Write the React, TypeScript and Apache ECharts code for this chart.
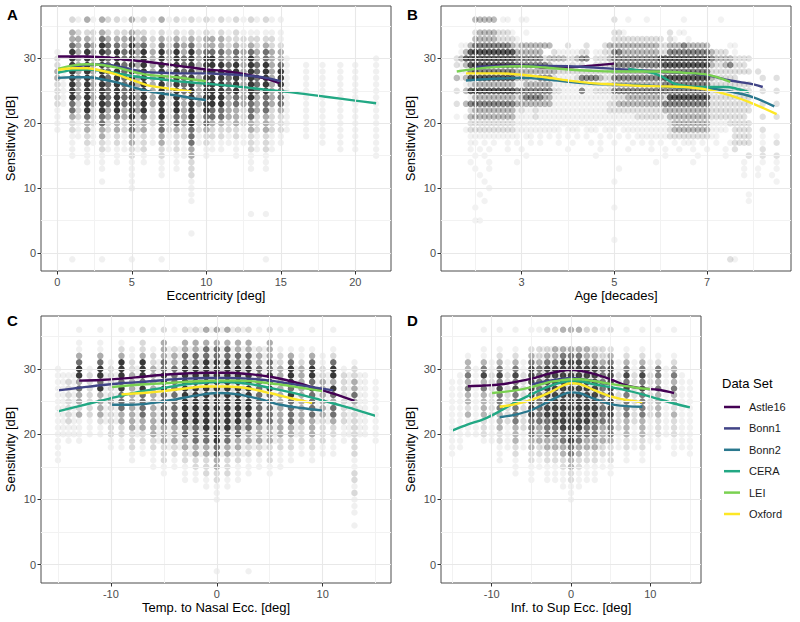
import { useEffect, useRef } from "react";
import * as echarts from "echarts";

const FONT = "'Liberation Sans', Arial, Helvetica, sans-serif";
const DATASETS = ["Astle16", "Bonn1", "Bonn2", "CERA", "LEI", "Oxford"];
const COLORS = ["#440154", "#414487", "#2A788E", "#22A884", "#7AD151", "#FDE725"];
const LEVEL_ALPHA = [0, 0.06, 0.15, 0.32, 0.56, 0.78];
const Y_TOP = 36;

// Point density columns: x, then levels for y = 36 .. -1
const eccCols: [number, string][] = [
  [0, "000001 2233222211 1100000000 0000000000 00"],
  [0.4, "000000 0011111100 0000000000 0000000000 00"],
  [1, "203345 5555555443 2211110000 0000000000 01"],
  [1.4, "102333 3333333222 1110000000 0000000000 00"],
  [2, "302345 5555555554 3322111000 0000000000 00"],
  [2.4, "102233 3333333322 2111000000 0000000000 00"],
  [3, "303455 5555555554 4332211101 0000000000 01"],
  [3.4, "202344 4444444433 2211100000 0000000000 00"],
  [4, "202345 5555555554 3322111000 0000000000 00"],
  [4.5, "102334 4444444433 2211100000 0000000000 00"],
  [5, "303455 5555555555 4433221111 1000000000 01"],
  [5.4, "102233 3333333332 2211100000 0000000000 00"],
  [5.8, "202345 5555555554 3322211000 0000000000 00"],
  [6.4, "101223 3333333322 2111000000 0000000000 00"],
  [7, "302345 5555555555 4433221110 0000000000 01"],
  [7.5, "101223 3333332222 2211100000 0000000000 00"],
  [8, "202345 5555555554 4322211100 0000000000 00"],
  [8.5, "101233 4444443333 3221110000 0000000000 00"],
  [9, "202345 5555555555 5444332221 1110000100 00"],
  [9.5, "101223 3333333322 2211000000 0000000000 00"],
  [10, "202334 5555555554 4322110000 0000000000 00"],
  [10.4, "101334 5555555544 3221100000 0000000000 00"],
  [11, "202334 4555555544 3221100000 0000000000 00"],
  [11.5, "101223 3444443333 2211000000 0000000000 00"],
  [12, "202234 4555554433 3221110000 0000000000 00"],
  [12.5, "101223 3333333322 2111000000 0000000000 00"],
  [13, "201234 5555555444 3322211100 0000100000 00"],
  [13.4, "101223 3444443332 2211100000 0000000000 00"],
  [14, "201234 4555554443 3322211100 0000100000 01"],
  [14.4, "101223 3333333322 2211100000 0000000000 00"],
  [15, "101123 3455544432 2211000000 0000000000 00"],
  [15.4, "000000 1111111111 1100000000 0000000000 00"],
  [16.7, "000000 0111111111 1110000000 0000000000 00"],
  [17.8, "000000 0111111111 1111000000 0000000000 00"],
  [19, "000000 0111111111 1111100000 0000000000 00"],
  [20, "000000 0111111111 1111100000 0000000000 00"],
  [21.4, "000000 1111111111 1111110000 0000000000 00"],
];

// Age columns (decades) and rows of density per sensitivity value
const ageX = [
  1.6, 1.7, 1.8, 1.9, 2.0, 2.1, 2.2, 2.3, 2.4, 2.5,
  2.6, 2.7, 2.8, 2.9, 3.0, 3.1, 3.2, 3.3, 3.4, 3.5,
  3.6, 3.7, 3.8, 3.9, 4.0, 4.1, 4.2, 4.3, 4.4, 4.5,
  4.6, 4.7, 4.8, 4.9, 5.0, 5.1, 5.2, 5.3, 5.4, 5.5,
  5.6, 5.7, 5.8, 5.9, 6.0, 6.1, 6.2, 6.3, 6.4, 6.5,
  6.6, 6.7, 6.8, 6.9, 7.0, 7.1, 7.2, 7.3, 7.4, 7.5,
  7.6, 7.7, 7.8, 7.9, 8.0, 8.1, 8.2, 8.3, 8.4, 8.5,
];
const ageRows: [number, string][] = [
  [36, "0000333330 1100110000 0000000000 0000200100 0100000001 0000000100 0000000000"],
  [34, "0000233332 2210010000 0000000000 0000221000 0000002011 0000000000 0000000000"],
  [33, "0000333332 2221000000 0000000000 0000222222 2222202100 1000000000 0000000000"],
  [32, "0113444444 4432333333 3000200020 0023333333 3333223334 3333300001 1000000000"],
  [31, "0135555555 5553333330 0211111220 1122443333 3333224444 4444432220 1000000000"],
  [30, "2355555555 5554444442 3333223440 2223444444 4444555555 5555543333 2222000000"],
  [29, "2135555555 5554444444 3111121200 2222444444 4444455555 5555532234 2220000000"],
  [28, "0114444444 4443333333 3322222222 2222333333 3333344444 4444422222 2222020000"],
  [27, "3135555555 5553332244 4211112444 4322444444 4444455555 5555532222 2000002002"],
  [26, "0012333333 3331133333 3111111111 1112333333 3333344444 4444422222 2222000000"],
  [25, "2035555555 5554444444 4221111411 2222444444 4444444444 4444422222 2222002002"],
  [24, "0001333333 3332344443 3111111111 1111222333 3333325555 5555522222 2222000000"],
  [23, "2034444444 4443333333 3111111111 1112233333 3333344444 4444422222 2222002002"],
  [22, "0002333333 3331211211 1111111111 1112222222 2222233333 3333322222 2222000000"],
  [21, "1013333333 3331111211 1111111111 1111111112 2222213333 3333322222 2220002002"],
  [20, "0002222222 2221111111 1111111111 1111111111 1111112333 3333311112 2222000000"],
  [19, "0012222222 2221111111 1110111011 1011101111 1111112333 3333311110 2222002000"],
  [18, "0001111111 1111011010 1010101010 0101010101 1111112222 2222211000 2222001001"],
  [17, "0001101010 0101001010 0010010001 0100100010 1010100101 1101001001 2222001002"],
  [16, "0001010100 0100100000 0000100000 0100000100 0010010010 0100100010 2000002000"],
  [15, "0000101000 0000010000 0000000000 1000000000 0000010000 0010000010 0002002002"],
  [14, "0001000100 0001000000 0000000000 0000000000 0001000000 0100000000 0010001001"],
  [13, "0000100100 0000000000 0000000000 0000010000 0000000000 0000000000 0010010001"],
  [12, "0000010000 0000000000 0000000000 0000000000 0000000000 0000000000 0010010010"],
  [11, "0000001000 0000000000 0000000000 0000100000 0000000000 0000000000 0000000001"],
  [10, "0000000100 0000000000 0000000000 0000000000 0000000000 0000000000 0000000000"],
  [9, "0000010000 0000000000 0000000000 0000000000 0000000000 0000000000 0001000000"],
  [8, "0000001000 0000000000 0000000000 0000000000 0000000000 0000000000 0001000000"],
  [7, "0000100000 0000000000 0000000000 0000100000 0000000000 0000000000 0000000000"],
  [5, "0000110000 0000000000 0000000000 0000000000 0000000000 0000000000 0000000000"],
  [2, "0000000000 0000000000 0000000000 0000100000 0000000000 0000000000 0000000000"],
  [-1, "0000000000 0000000000 0000000000 0000000000 0000000000 0000000002 1000000000"],
];

const tnCols: [number, string][] = [
  [-15, "000000 1111111111 1111100000 0000000000 00"],
  [-14.5, "000000 0111111111 1000000000 0000000000 00"],
  [-14, "000000 0122222221 1100000000 0000000000 00"],
  [-13.5, "000000 0111111111 1000000000 0000000000 00"],
  [-13, "101134 5534332311 1100000000 0000000000 00"],
  [-12, "000000 1222222211 1000000000 0000000000 00"],
  [-11, "101134 5545333321 1000000000 0000000000 00"],
  [-10.5, "000000 0111111110 0000000000 0000000000 00"],
  [-10, "000001 2222232222 2110000000 0000000000 00"],
  [-9.5, "000000 0111111110 0000000000 0000000000 00"],
  [-9, "101235 5545444332 2110000000 0000000000 00"],
  [-8, "100112 2333333333 2221100000 0000000000 00"],
  [-7.5, "000000 1111111111 1000000000 0000000000 00"],
  [-7, "202235 5545444433 2211000000 0000000000 00"],
  [-6, "100122 3333333333 3221110000 0000000000 00"],
  [-5.5, "000001 1111111111 1100000000 0000000000 00"],
  [-5, "203334 4555444443 3322211000 0000000000 00"],
  [-4.5, "000111 1111111111 1110000000 0000000000 00"],
  [-4, "100233 4444444443 3322110000 0000000000 00"],
  [-3.5, "000111 1111111111 1110000000 0000000000 00"],
  [-3, "203344 5555555554 4332211100 0000000000 00"],
  [-2.5, "100112 2222222222 1111000000 0000000000 00"],
  [-2, "203344 5555555554 4433221100 0000000000 00"],
  [-1.5, "100112 2222222222 1111000000 0000000000 00"],
  [-1, "303445 5555555555 4433222110 0000000000 00"],
  [-0.5, "100112 2222222222 1111000000 0000000000 00"],
  [0, "303445 5555555555 5544332211 1000000000 01"],
  [0.5, "100112 2222222222 1111000000 0000000000 00"],
  [1, "303445 5555555555 4433222110 0000000000 00"],
  [1.5, "100112 2222222222 1111000000 0000000000 00"],
  [2, "203344 5555555554 4332211100 0000000000 00"],
  [2.5, "100112 2222222222 1111000000 0000000000 00"],
  [3, "203344 5555555544 3322111000 0000000000 01"],
  [3.5, "000111 1111111111 1110000000 0000000000 00"],
  [4, "100233 4444444443 3322110000 0000000000 00"],
  [4.5, "000111 1111111111 1110000000 0000000000 00"],
  [5, "203334 4555444443 3322211000 0000000000 00"],
  [5.5, "000001 1111111111 1100000000 0000000000 00"],
  [6, "100122 3333333333 3221110000 0000000000 00"],
  [7, "100134 5554544443 3221100000 0000000000 00"],
  [7.5, "000000 1111111111 1000000000 0000000000 00"],
  [8, "000112 3333333332 2211000000 0000000000 00"],
  [9, "100134 5545444433 3221100000 0000000000 00"],
  [9.5, "000000 0111111110 0000000000 0000000000 00"],
  [10, "000011 2233333322 2211000000 0000000000 00"],
  [10.5, "000000 0111111110 0000000000 0000000000 00"],
  [11, "100124 5535434432 2111000000 0000000000 00"],
  [12, "000000 1222222221 1100000000 0000000000 00"],
  [12.5, "000000 0111111111 1000000000 0000000000 00"],
  [13, "000001 2233432222 2222112212 1110100000 00"],
  [13.5, "000000 0111111111 1000000000 0000000000 00"],
  [14, "000000 0111111111 1000000000 0000000000 00"],
  [15, "000000 0011111111 1100000000 0000000000 00"],
];

const isCols: [number, string][] = [
  [-15, "000000 0011111111 1111000000 0000000000 00"],
  [-14, "000000 0111111111 1110000000 0000000000 00"],
  [-13, "000013 3434332311 1000000000 0000000000 00"],
  [-12, "000000 1111111111 1000000000 0000000000 00"],
  [-11, "100113 4534333322 2100000000 0000000000 00"],
  [-10, "000001 1222222211 1100000000 0000000000 00"],
  [-9, "100123 4545444333 2211100000 0000000000 00"],
  [-8, "000001 1222222221 1110000000 0000000000 00"],
  [-7, "100123 4545444443 3322111000 0000000000 00"],
  [-6, "000001 1222222222 1110000000 0000000000 00"],
  [-5, "100234 5555555544 4332211100 0000000000 00"],
  [-4.5, "000011 1111111111 1100000000 0000000000 00"],
  [-4, "100223 4444444443 3322110000 0000000000 00"],
  [-3.5, "000111 2222222221 1110000000 0000000000 00"],
  [-3, "200234 5555555544 4332211100 0000000000 00"],
  [-2.5, "000111 2222222221 1110000000 0000000000 00"],
  [-2, "200334 5555555554 4332211100 0000000000 00"],
  [-1.5, "000111 2222222221 1110000000 0000000000 00"],
  [-1, "300345 5555555555 4433221110 0000000000 00"],
  [-0.5, "000111 2222222221 1110000000 0000000000 00"],
  [0, "300345 5555555555 5544332211 1000000000 00"],
  [0.5, "000111 2222222221 1110000000 0000000000 00"],
  [1, "300345 5555555555 4433221110 0000000000 00"],
  [1.5, "000111 2222222221 1110000000 0000000000 00"],
  [2, "200334 5555555554 4332211100 0000000000 00"],
  [2.5, "000111 2222222221 1110000000 0000000000 00"],
  [3, "200234 5555555544 4332211100 0000000000 00"],
  [3.5, "000111 2222222221 1110000000 0000000000 00"],
  [4, "100223 4444444443 3322110000 0000000000 00"],
  [4.5, "000011 1111111111 1100000000 0000000000 00"],
  [5, "200234 5555555544 4322211000 0000000000 00"],
  [6, "000001 1222222222 1110000000 0000000000 00"],
  [7, "100123 4545444433 3221100000 0000000000 00"],
  [8, "000001 1222222221 1110000000 0000000000 00"],
  [9, "100123 4545444433 3221100000 0000000000 00"],
  [10, "000001 1222222211 1100000000 0000000000 00"],
  [11, "100012 4434333322 2110000000 0000000000 00"],
  [12, "000000 1111111111 1000000000 0000000000 00"],
  [13, "100012 3434332322 2111000000 0000000000 00"],
  [14, "000000 0111111111 1110000000 0000000000 00"],
  [15, "000000 0011111111 1111000000 0000000000 00"],
];

// Smooth fits per data set (order of DATASETS)
const eccFits: number[][][] = [
  [[0, 30.3], [1, 30.3], [2, 30.3], [3, 30.2], [4, 30.0], [5, 29.7], [6, 29.5], [7, 29.2], [8, 28.9], [9, 28.6], [10, 28.3], [11, 28.1], [12, 27.8], [13, 27.4], [14, 26.9], [14.9, 26.2]],
  [[1, 28.7], [2, 29.0], [3, 29.1], [4, 28.8], [5, 28.3], [6, 27.9], [7, 27.8], [8, 27.7], [9, 27.7], [10, 27.7], [11, 27.6], [12, 27.5], [13, 27.3], [14, 27.0], [15, 26.5]],
  [[0, 27.0], [1, 27.1], [2, 27.1], [3, 26.8], [4, 26.3], [5, 25.6], [6, 25.0], [7, 24.6], [8, 24.3], [9, 23.9], [10, 23.6]],
  [[0, 27.8], [1, 28.2], [2, 28.3], [3, 28.1], [4, 27.7], [5, 27.3], [6, 27.0], [7, 26.8], [8, 26.5], [9, 26.3], [10, 26.1], [12, 25.7], [14, 25.2], [16, 24.7], [18, 24.1], [20, 23.5], [21.4, 23.1]],
  [[0, 28.4], [1, 28.9], [2, 29.1], [3, 29.0], [4, 28.6], [5, 28.0], [6, 27.5], [7, 27.3], [8, 27.1], [9, 26.8], [10, 26.5]],
  [[0, 28.2], [1, 28.5], [2, 28.5], [3, 28.1], [4, 27.5], [5, 26.7], [6, 25.9], [7, 25.5], [8, 25.2], [9, 24.9]],
];
const ageFits: number[][][] = [
  [[2.0, 28.6], [2.5, 28.9], [3.0, 28.9], [3.5, 28.6], [4.0, 28.6], [4.5, 28.9], [5.0, 29.2]],
  [[2.0, 28.7], [3.0, 28.9], [4.0, 28.8], [5.0, 28.4], [6.0, 28.0], [6.5, 27.8], [7.0, 27.4], [7.5, 26.6], [8.0, 26.0], [8.2, 25.6]],
  [[1.8, 26.6], [2.5, 26.9], [3.0, 27.0], [3.5, 26.8], [4.0, 26.4], [4.5, 26.1], [5.0, 26.0], [5.5, 25.9], [6.0, 25.7], [6.5, 25.5], [7.0, 25.4], [7.5, 24.9], [8.0, 24.0], [8.45, 22.6]],
  [[5.3, 28.4], [5.6, 28.1], [5.9, 27.6], [6.1, 26.9], [6.3, 26.1], [6.6, 25.7], [7.0, 25.6], [7.4, 25.6], [7.6, 25.4], [7.9, 24.8]],
  [[1.6, 28.0], [2.0, 28.4], [2.5, 28.7], [3.0, 28.8], [3.5, 28.6], [4.0, 28.3], [4.5, 28.1], [5.0, 28.0], [5.5, 28.0], [6.0, 28.0], [6.5, 27.8], [7.0, 27.5], [7.5, 26.4]],
  [[1.8, 27.7], [2.5, 27.7], [3.0, 27.5], [3.5, 27.1], [4.0, 26.6], [4.5, 26.2], [5.0, 26.0], [5.5, 25.8], [6.0, 25.7], [6.5, 25.6], [7.0, 25.2], [7.5, 24.3], [8.0, 23.0], [8.5, 21.4]],
];
const tnFits: number[][][] = [
  [[-13, 28.2], [-11, 28.3], [-9, 28.5], [-7, 28.8], [-5, 29.1], [-3, 29.3], [-1, 29.4], [0, 29.4], [1, 29.4], [3, 29.2], [5, 28.8], [7, 28.1], [9, 27.2], [11, 26.2], [13, 25.1]],
  [[-15, 26.7], [-13, 27.1], [-11, 27.5], [-9, 27.8], [-7, 28.0], [-5, 28.3], [-3, 28.5], [-1, 28.6], [1, 28.6], [3, 28.5], [5, 28.2], [7, 27.7], [9, 27.2], [11, 26.7]],
  [[-10, 24.5], [-8, 24.5], [-6, 24.8], [-4, 25.3], [-2, 25.9], [0, 26.3], [2, 26.1], [4, 25.4], [6, 24.5], [8, 24.0], [10, 23.6]],
  [[-15, 23.5], [-13, 24.3], [-11, 25.1], [-9, 25.9], [-7, 26.6], [-5, 27.1], [-3, 27.6], [-1, 27.9], [0, 28.0], [1, 28.0], [3, 27.7], [5, 27.1], [7, 26.4], [9, 25.6], [11, 24.7], [13, 23.8], [15, 22.8]],
  [[-10, 27.2], [-8, 27.5], [-6, 27.7], [-4, 27.9], [-2, 28.1], [0, 28.2], [2, 28.2], [4, 28.0], [6, 27.6], [8, 27.1], [10, 26.6]],
  [[-9, 26.1], [-7, 26.3], [-5, 26.6], [-3, 27.0], [-1, 27.3], [0, 27.3], [1, 27.3], [3, 27.0], [5, 26.3], [7, 25.5], [9, 24.8]],
];
const isFits: number[][][] = [
  [[-13, 27.35], [-11, 27.45], [-9, 27.6], [-7, 28.0], [-5, 28.5], [-3, 29.2], [-1, 29.75], [0, 29.85], [1, 29.75], [3, 29.2], [5, 28.4], [7, 27.45], [9, 27.0], [11, 26.8], [13, 26.3]],
  [[-5, 27.6], [-3, 28.1], [-1, 28.5], [0, 28.6], [1, 28.5], [3, 28.1], [5, 27.6]],
  [[-9, 22.6], [-7, 23.0], [-5, 23.7], [-3, 24.9], [-1, 26.1], [0, 26.4], [1, 26.3], [3, 25.4], [5, 24.6], [7, 24.3], [9, 24.2]],
  [[-15, 20.55], [-13, 21.5], [-11, 22.3], [-9, 23.5], [-7, 24.9], [-5, 26.1], [-3, 27.2], [-1, 28.0], [0, 28.1], [1, 28.1], [3, 27.6], [5, 27.2], [7, 26.7], [9, 26.1], [11, 25.4], [13, 24.7], [15, 24.1]],
  [[-10, 26.3], [-7, 26.7], [-5, 27.2], [-3, 27.9], [-1, 28.3], [0, 28.4], [1, 28.4], [3, 28.1], [5, 27.7], [7, 27.35], [9, 27.0], [10, 26.9]],
  [[-9, 24.2], [-7, 24.6], [-5, 25.25], [-3, 26.2], [-1, 27.45], [0, 27.8], [1, 27.7], [3, 26.7], [5, 25.8], [7, 25.25], [9, 24.9]],
];

// Axis breaks
const yMajor = [0, 10, 20, 30];
const yMinor = [5, 15, 25, 35];
const eccMajor = [0, 5, 10, 15, 20];
const eccMinor = [2.5, 7.5, 12.5, 17.5];
const ageMajor = [3, 5, 7];
const ageMinor = [2, 4, 6, 8];
const eccTnMajor = [-10, 0, 10];
const eccTnMinor = [-15, -5, 5, 15];

function levelsFromColumns(cols: [number, string][]) {
  const byLevel: number[][][] = [[], [], [], [], [], []];
  cols.forEach(([x, s]) => {
    const t = s.replace(/\s/g, "");
    for (let k = 0; k < t.length; k++) {
      const lv = Number(t[k]);
      if (lv > 0) byLevel[lv].push([x, Y_TOP - k]);
    }
  });
  return byLevel;
}
function levelsFromRows(xs: number[], rows: [number, string][]) {
  const byLevel: number[][][] = [[], [], [], [], [], []];
  rows.forEach(([y, s]) => {
    const t = s.replace(/\s/g, "");
    for (let i = 0; i < t.length && i < xs.length; i++) {
      const lv = Number(t[i]);
      if (lv > 0) byLevel[lv].push([xs[i], y]);
    }
  });
  return byLevel;
}

export default function App() {
  const ref = useRef<HTMLDivElement>(null);
  useEffect(() => {
    if (!ref.current) return;
    const chart = echarts.init(ref.current, undefined, { renderer: "svg" });

    const panels = [
      { grid: { left: 41, top: 6, width: 350, height: 265 }, min: -1.1, max: 22.4, major: eccMajor, minor: eccMinor, name: "Eccentricity [deg]", levels: levelsFromColumns(eccCols), fits: eccFits, fade: 1 },
      { grid: { left: 441, top: 6, width: 350, height: 265 }, min: 1.26, max: 8.81, major: ageMajor, minor: ageMinor, name: "Age [decades]", levels: levelsFromRows(ageX, ageRows), fits: ageFits, fade: 0.82 },
      { grid: { left: 41, top: 316, width: 350, height: 267 }, min: -16.6, max: 16.45, major: eccTnMajor, minor: eccTnMinor, name: "Temp. to Nasal Ecc. [deg]", levels: levelsFromColumns(tnCols), fits: tnFits, fade: 1 },
      { grid: { left: 441, top: 316, width: 260, height: 267 }, min: -16.4, max: 16.4, major: eccTnMajor, minor: eccTnMinor, name: "Inf. to Sup Ecc. [deg]", levels: levelsFromColumns(isCols), fits: isFits, fade: 0.92 },
    ];

    const grids: any[] = [];
    const xAxes: any[] = [];
    const yAxes: any[] = [];
    const series: any[] = [];
    const minorStyle = { color: "#f2f2f2", width: 1, type: "solid" };
    const majorStyle = { color: "#e8e8e8", width: 1.1, type: "solid" };

    panels.forEach((p, i) => {
      grids.push({ ...p.grid, show: true, borderColor: "#4d4d4d", borderWidth: 1, backgroundColor: "#fff", containLabel: false, outerBoundsMode: "none" });
      xAxes.push({
        gridIndex: i, type: "value", min: p.min, max: p.max,
        splitLine: { show: false },
        axisLine: { show: false, onZero: false },
        axisTick: { show: true, length: 3.5, lineStyle: { color: "#333" }, customValues: p.major },
        axisLabel: { customValues: p.major, color: "#4d4d4d", fontSize: 11, fontFamily: FONT, margin: 5 },
        name: p.name, nameLocation: "middle", nameGap: 18,
        nameTextStyle: { color: "#000", fontSize: 13, fontFamily: FONT },
      });
      yAxes.push({
        gridIndex: i, type: "value", min: -2.8, max: 38.1,
        splitLine: { show: false },
        axisLine: { show: false, onZero: false },
        axisTick: { show: true, length: 3.5, lineStyle: { color: "#333" }, customValues: yMajor },
        axisLabel: { customValues: yMajor, color: "#4d4d4d", fontSize: 11, fontFamily: FONT, margin: 5 },
        name: "Sensitivity [dB]", nameLocation: "middle", nameGap: 24,
        nameTextStyle: { color: "#000", fontSize: 13, fontFamily: FONT },
      });
      const gridLines: any[] = [];
      p.minor.forEach((v) => gridLines.push({ xAxis: v, lineStyle: minorStyle }));
      yMinor.forEach((v) => gridLines.push({ yAxis: v, lineStyle: minorStyle }));
      p.major.forEach((v) => gridLines.push({ xAxis: v, lineStyle: majorStyle }));
      yMajor.forEach((v) => gridLines.push({ yAxis: v, lineStyle: majorStyle }));
      series.push({
        type: "line", xAxisIndex: i, yAxisIndex: i, data: [], silent: true, z: 1,
        markLine: { silent: true, symbol: ["none", "none"], label: { show: false }, lineStyle: { type: "solid" }, emphasis: { disabled: true }, data: gridLines, animation: false },
      });
      for (let lv = 1; lv <= 5; lv++) {
        series.push({
          type: "scatter", xAxisIndex: i, yAxisIndex: i, data: p.levels[lv], symbolSize: 6.5, silent: true, z: 2,
          itemStyle: { color: "#000", opacity: LEVEL_ALPHA[lv] * p.fade },
        });
      }
      p.fits.forEach((pts, k) => {
        series.push({
          name: DATASETS[k], type: "line", xAxisIndex: i, yAxisIndex: i, data: pts, smooth: 0.35,
          symbol: "none", showSymbol: false, silent: true, z: 3,
          lineStyle: { width: 2.4, color: COLORS[k] }, itemStyle: { color: COLORS[k] },
        });
      });
    });

    const labels = [["A", 7, 7], ["B", 407, 7], ["C", 7, 313], ["D", 407, 313]];
    const option: any = {
      animation: false,
      backgroundColor: "#fff",
      grid: grids, xAxis: xAxes, yAxis: yAxes, series,
      legend: {
        data: DATASETS.map((n) => ({ name: n, icon: "rect" })),
        orient: "vertical", left: 724, top: 400, padding: 0,
        itemWidth: 16, itemHeight: 2.5, itemGap: 7.4, selectedMode: false,
        textStyle: { fontSize: 11, color: "#1a1a1a", fontFamily: FONT, lineHeight: 14, padding: [0, 0, 0, 4] },
      },
      graphic: [
        ...labels.map(([t, x, y]) => ({ type: "text", left: x, top: y, style: { text: t, font: `bold 15px ${FONT}`, fill: "#000" } })),
        { type: "text", left: 722, top: 377, style: { text: "Data Set", font: `13px ${FONT}`, fill: "#000" } },
      ],
    };
    chart.setOption(option);
    return () => chart.dispose();
  }, []);
  return <div ref={ref} style={{ position: "fixed", left: 0, top: 0, width: 800, height: 622 }} />;
}
